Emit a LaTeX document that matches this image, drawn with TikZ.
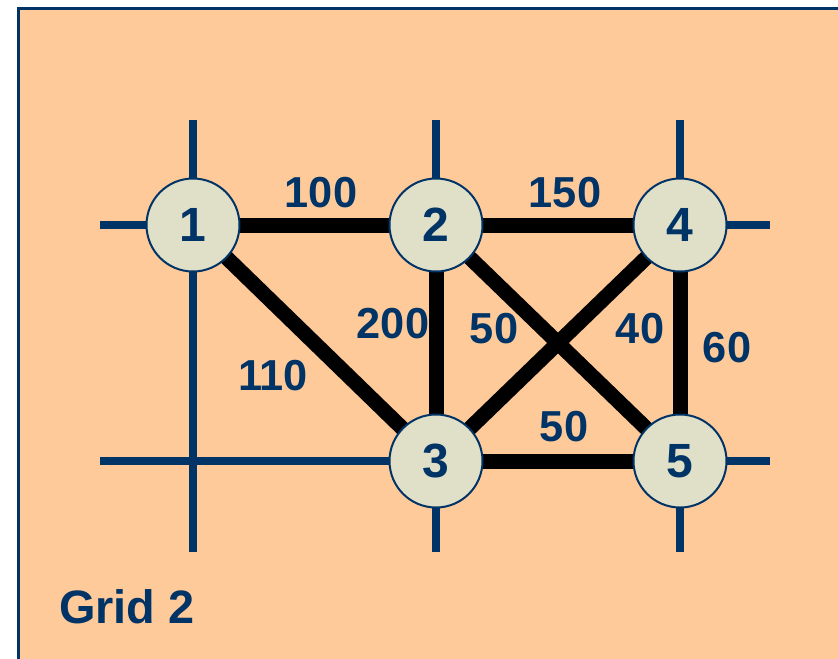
\documentclass[tikz,border=0pt]{standalone}
\usepackage{fontspec}
\setmainfont{Liberation Sans}
\usetikzlibrary{positioning}

\definecolor{peach}{HTML}{FFCA99}
\definecolor{navy}{HTML}{003366}
\definecolor{busfill}{HTML}{E0E0C8}

\begin{document}
\begin{tikzpicture}[
  x=0.3mm, y=-0.3mm,
  gridln/.style={draw=navy, line width=2.4mm},
  branch/.style={draw=black, line width=4.5mm},
  bus/.style={circle, draw=navy, line width=0.6mm, fill=busfill,
              minimum size=27.9mm, inner sep=0pt, text=navy,
              font=\fontsize{41}{44}\selectfont\bfseries},
  wt/.style={text=navy, inner sep=0pt, font=\fontsize{37}{40}\selectfont\bfseries},
]
\clip (0,0) rectangle (838,658);
% ---- panel ----
\fill[white] (0,0) rectangle (838,658);
\filldraw[fill=peach, draw=navy, line width=0.9mm] (18.5,8.5) rectangle (860,680);

% ---- grid lines ----
\foreach \gx in {193,436,680}
  \draw[gridln] (\gx,120) -- (\gx,552);
\foreach \gy in {225,461}
  \draw[gridln] (100,\gy) -- (770,\gy);

% ---- buses ----
\coordinate (p1) at (193,225);
\coordinate (p2) at (436,225);
\coordinate (p4) at (680,225);
\coordinate (p3) at (436,461);
\coordinate (p5) at (680,461);

% ---- branches ----
\draw[branch] (p1) -- (p2);
\draw[branch] (p2) -- (p4);
\draw[branch] (p1) -- (p3);
\draw[branch] (p2) -- (p3);
\draw[branch] (p2) -- (p5);
\draw[branch] (p4) -- (p3);
\draw[branch] (p4) -- (p5);
\draw[branch] (p3) -- (p5);

\node[bus] (n1) at (p1) {1};
\node[bus] (n2) at (p2) {2};
\node[bus] (n4) at (p4) {4};
\node[bus] (n3) at (p3) {3};
\node[bus] (n5) at (p5) {5};

% ---- branch weights ----
\node[wt] (w12) at (321,193) {100};
\node[wt] (w24) at (565,193) {150};
\node[wt] (w23) at (393,324) {200};
\node[wt] (w25) at (494,329) {50};
\node[wt] (w43) at (640,329) {40};
\node[wt] (w45) at (727,348) {60};
\node[wt] (w13) at (273,376) {110};
\node[wt] (w35) at (564,427) {50};

% ---- caption ----
\node[text=navy, inner sep=0pt, anchor=base west,
      font=\fontsize{40}{44}\selectfont\bfseries] (cap) at (59,623) {Grid 2};
\end{tikzpicture}
\end{document}
